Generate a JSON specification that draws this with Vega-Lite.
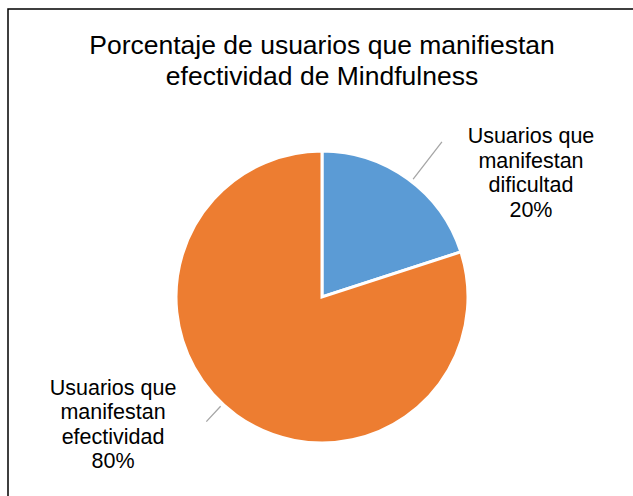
{
  "$schema": "https://vega.github.io/schema/vega-lite/v6.json",
  "width": 628,
  "height": 576,
  "autosize": "none",
  "padding": {"left": 8, "top": 9, "right": -3, "bottom": -89},
  "background": "white",
  "view": {"stroke": "black", "strokeWidth": 1.5},
  "config": {"font": "Liberation Sans"},
  "title": {
    "text": ["Porcentaje de usuarios que manifiestan", "efectividad de Mindfulness"],
    "fontSize": 26.5,
    "fontWeight": "normal",
    "font": "Liberation Sans",
    "color": "black",
    "baseline": "alphabetic",
    "offset": -102,
    "lineHeight": 31,
    "anchor": "middle",
    "frame": "group"
  },
  "data": {
    "values": [
      {"categoria": "Usuarios que manifiestan dificultad", "etiqueta": "Usuarios que\nmanifestan\ndificultad", "porcentaje": 20},
      {"categoria": "Usuarios que manifiestan efectividad", "etiqueta": "Usuarios que\nmanifestan\nefectividad", "porcentaje": 80}
    ]
  },
  "transform": [
    {"calculate": "datum.etiqueta + '\\n' + datum.porcentaje + '%'", "as": "texto"}
  ],
  "encoding": {
    "theta": {"field": "porcentaje", "type": "quantitative", "stack": true},
    "detail": {"field": "categoria", "type": "nominal"}
  },
  "layer": [
    {
      "mark": {"type": "arc", "radius": 146, "stroke": "white", "strokeWidth": 3},
      "encoding": {
        "color": {
          "field": "categoria",
          "type": "nominal",
          "scale": {"domain": ["Usuarios que manifiestan dificultad", "Usuarios que manifiestan efectividad"], "range": ["#5B9BD5", "#ED7D31"]},
          "legend": null
        }
      }
    },
    {
      "transform": [
        {"stack": "porcentaje", "groupby": [], "sort": [{"field": "categoria", "order": "ascending"}], "as": ["ini", "fin"]},
        {"calculate": "(datum.ini + datum.fin) / 2", "as": "medio"},
        {"filter": "datum.porcentaje < 50"}
      ],
      "mark": {"type": "arc", "radius": 196, "radius2": 149, "thetaOffset": 0.03, "theta2Offset": 0.03, "filled": false, "stroke": "#A6A6A6", "strokeWidth": 1.3},
      "encoding": {
        "theta": {"field": "medio", "type": "quantitative", "stack": null, "scale": {"domain": [0, 100]}},
        "theta2": {"field": "medio"}
      }
    },
    {
      "transform": [
        {"stack": "porcentaje", "groupby": [], "sort": [{"field": "categoria", "order": "ascending"}], "as": ["ini", "fin"]},
        {"calculate": "(datum.ini + datum.fin) / 2", "as": "medio"},
        {"filter": "datum.porcentaje >= 50"}
      ],
      "mark": {"type": "arc", "radius": 170, "radius2": 149, "thetaOffset": 0.12, "theta2Offset": 0.12, "filled": false, "stroke": "#A6A6A6", "strokeWidth": 1.3},
      "encoding": {
        "theta": {"field": "medio", "type": "quantitative", "stack": null, "scale": {"domain": [0, 100]}},
        "theta2": {"field": "medio"}
      }
    },
    {
      "mark": {"type": "text", "radius": 244, "thetaOffset": 0.4, "dy": -34, "fontSize": 21.5, "lineBreak": "\n", "lineHeight": 24.5, "color": "black", "baseline": "middle", "align": "center", "font": "Liberation Sans"},
      "encoding": {"text": {"field": "texto", "type": "nominal"}}
    }
  ]
}
